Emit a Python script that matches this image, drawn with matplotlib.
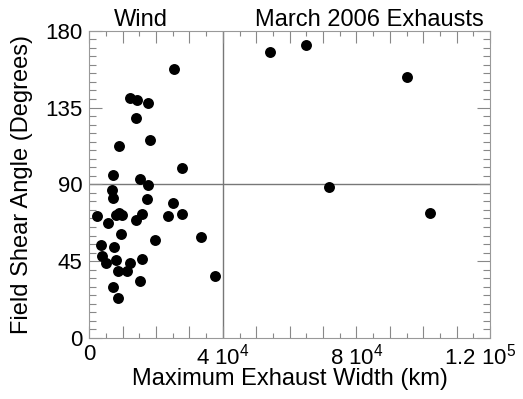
import numpy as np
import matplotlib.pyplot as plt
import matplotlib.transforms as mtransforms
from matplotlib.ticker import FixedLocator, MultipleLocator

plt.rcParams['font.family'] = ['Liberation Sans', 'DejaVu Sans']
plt.rcParams['mathtext.fontset'] = 'custom'
plt.rcParams['mathtext.rm'] = 'Liberation Sans'

#----- data (km, degrees)
width_km = [25470, 12190, 14200, 17490, 13900, 18190, 8990, 27770, 7010, 15280,
            17590, 6710, 7100, 17190, 24990, 2220, 7910, 8990, 9890, 15700,
            13900, 23580, 27860, 5510, 9590, 19680, 33560, 3600, 7490, 3800,
            4910, 8000, 15700, 12280, 8510, 11200, 15190, 37750, 7010, 8690,
            54230, 64830, 95090, 71810, 102160]
shear_deg = [157.8, 140.8, 139.4, 137.8, 128.7, 116.0, 112.5, 99.4, 95.3, 93.3,
             89.6, 86.9, 82.0, 81.3, 79.1, 71.6, 71.9, 73.4, 71.9, 72.5,
             69.1, 71.5, 72.6, 67.5, 60.7, 57.2, 59.0, 54.5, 53.1, 48.0,
             43.8, 45.9, 46.5, 43.9, 39.4, 39.2, 33.4, 36.1, 29.7, 23.4,
             167.7, 171.5, 152.7, 88.3, 73.4]

xticks = [0, 10000, 20000, 30000, 40000, 50000, 60000, 70000, 80000, 90000, 100000, 110000, 120000]
xticklabels = ['0', '', '', '', r'4 10$^\mathrm{4}$', '', '', '', r'8 10$^\mathrm{4}$', '', '', '', r'1.2 10$^\mathrm{5}$']
yticks = [0, 45, 90, 135, 180]

fig = plt.figure(figsize=(5.23, 3.99), dpi=100)
ax = fig.add_axes([0.1707, 0.1529, 0.7663, 0.7701])

ax.axvline(40000, color='#777777', lw=1.0, zorder=1)
ax.axhline(90, color='#777777', lw=1.0, zorder=1)
ax.scatter(width_km, shear_deg, s=62, c='black', zorder=3, linewidths=0)

ax.set_xlim(0, 120000)
ax.set_ylim(0, 180)
ax.xaxis.set_major_locator(FixedLocator(xticks))
ax.set_xticklabels(xticklabels)
ax.xaxis.set_minor_locator(MultipleLocator(5000))
ax.set_yticks(yticks)
ax.yaxis.set_minor_locator(MultipleLocator(5))

for s in ax.spines.values():
    s.set_color('#999999')
    s.set_linewidth(0.8)
ax.tick_params(which='both', direction='in', top=True, right=True, color='#888888',
               labelsize=16, width=0.8)
ax.tick_params(axis='x', which='major', length=8.5, pad=4)
ax.tick_params(axis='x', which='minor', length=3.6)
ax.tick_params(axis='y', which='major', length=9.5, pad=5)
ax.tick_params(axis='y', which='minor', length=5)

# last label sits against the right edge, nudge it left a bit
last = ax.get_xticklabels()[-1]
last.set_transform(last.get_transform() + mtransforms.ScaledTranslation(-7 / 72, 0, fig.dpi_scale_trans))

ax.set_xlabel('Maximum Exhaust Width (km)', fontsize=17, labelpad=-1)
ax.set_ylabel('Field Shear Angle (Degrees)', fontsize=17, labelpad=9)

ax.text(0.13, 1.0, 'Wind', transform=ax.transAxes, ha='center', va='bottom', fontsize=17)
ax.text(0.698, 1.0, 'March 2006 Exhausts', transform=ax.transAxes, ha='center', va='bottom', fontsize=17)

fig.savefig('out.png', dpi=100)
